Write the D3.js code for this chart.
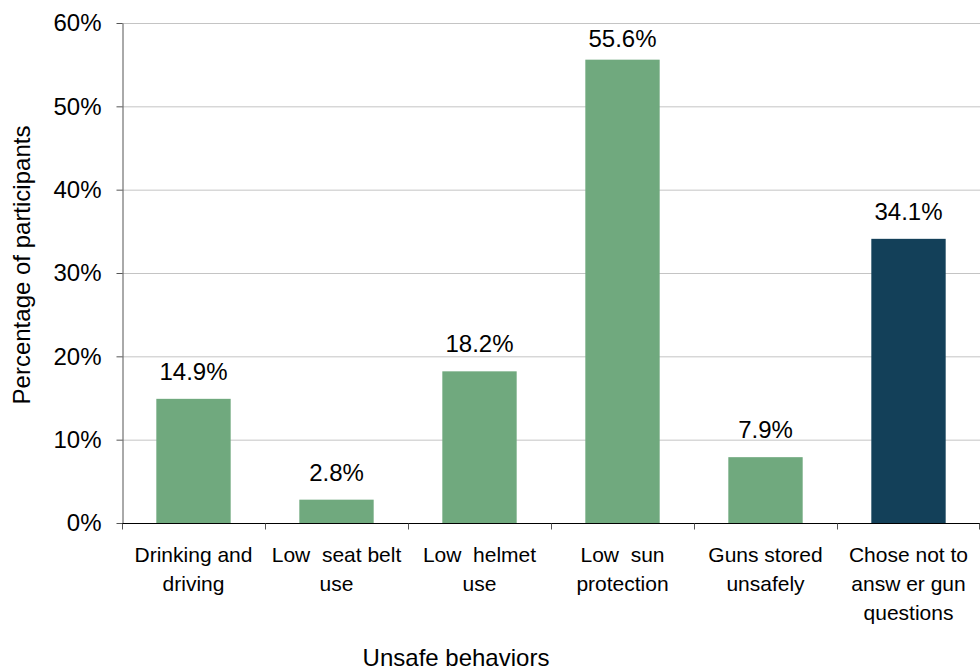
<!DOCTYPE html>
<html>
<head>
<meta charset="utf-8">
<script src="https://cdn.jsdelivr.net/npm/d3@7"></script>
<style>
html,body{margin:0;padding:0;background:#fff;}
svg{display:block;font-family:"Liberation Sans",Arial,sans-serif;}
</style>
</head>
<body>
<svg id="chart" width="980" height="671"></svg>
<script>
const categories = [
  ["Drinking and", "driving"],
  ["Low  seat belt", "use"],
  ["Low  helmet", "use"],
  ["Low  sun", "protection"],
  ["Guns stored", "unsafely"],
  ["Chose not to", "answ er gun", "questions"]
];
const values = [14.9, 2.8, 18.2, 55.6, 7.9, 34.1];
const barColors = ["#70a97e", "#70a97e", "#70a97e", "#70a97e", "#70a97e", "#134059"];
const yTicks = [0, 10, 20, 30, 40, 50, 60];

(function() {
const svg = d3.select("#chart");
const mLeft = 122, mRight = 980, mTop = 23, mBottom = 523;

const x = d3.scaleBand().domain(d3.range(categories.length)).range([mLeft, mRight]).paddingInner(0.48).paddingOuter(0.24);
const y = d3.scaleLinear().domain([0, 60]).range([mBottom, mTop]);

// gridlines
svg.append("g").selectAll("line").data(yTicks.filter(d => d > 0)).join("line")
  .attr("x1", mLeft).attr("x2", mRight)
  .attr("y1", d => y(d) + 0.5).attr("y2", d => y(d) + 0.5)
  .attr("stroke", "#c4c4c4").attr("stroke-width", 1);

// bars
svg.append("g").selectAll("rect").data(values).join("rect")
  .attr("x", (d, i) => x(i))
  .attr("width", x.bandwidth())
  .attr("y", d => y(d))
  .attr("height", d => mBottom - y(d))
  .attr("fill", (d, i) => barColors[i]);

// value labels
svg.append("g").selectAll("text").data(values).join("text")
  .attr("x", (d, i) => x(i) + x.bandwidth() / 2)
  .attr("y", d => Math.max(y(d) - 19, 47))
  .attr("text-anchor", "middle")
  .attr("font-size", 24)
  .attr("fill", "#000")
  .text(d => d.toFixed(1) + "%");

// y axis
const yAxis = d3.axisLeft(y).tickValues(yTicks).tickFormat(d => d + "%").tickSize(6).tickSizeOuter(0);
const gy = svg.append("g").attr("transform", `translate(${mLeft + 0.5},0)`).call(yAxis);
gy.select(".domain").attr("stroke", "#555");
gy.selectAll(".tick line").attr("stroke", "#555");
gy.selectAll(".tick text").attr("font-size", 24).attr("font-family", "Liberation Sans, Arial, sans-serif").attr("fill", "#000").attr("x", -21);

// x axis
const xEdge = d3.scaleLinear().domain([0, categories.length]).range([mLeft, mRight]);
const gx = svg.append("g").attr("transform", `translate(0,${mBottom + 0.5})`);
gx.append("line").attr("x1", mLeft).attr("x2", mRight).attr("stroke", "#000").attr("stroke-width", 1.2);
gx.selectAll("line.tk").data(d3.range(categories.length + 1)).join("line").attr("class", "tk")
  .attr("x1", d => Math.min(xEdge(d) + 0.5, mRight - 0.5)).attr("x2", d => Math.min(xEdge(d) + 0.5, mRight - 0.5))
  .attr("y1", 0).attr("y2", 6).attr("stroke", "#555");

// category labels
const cl = svg.append("g").selectAll("text").data(categories).join("text")
  .attr("text-anchor", "middle")
  .attr("font-size", 21)
  .attr("fill", "#000");
cl.each(function(lines, i) {
  d3.select(this).selectAll("tspan").data(lines).join("tspan")
    .attr("x", x(i) + x.bandwidth() / 2)
    .attr("y", (d, j) => 562 + j * 29)
    .style("white-space", "pre")
    .text(d => d);
});

// axis titles
svg.append("text").attr("x", 456).attr("y", 666).attr("text-anchor", "middle")
  .attr("font-size", 24).attr("fill", "#000").text("Unsafe behaviors");
svg.append("text").attr("transform", "translate(30,265) rotate(-90)").attr("text-anchor", "middle")
  .attr("font-size", 24).attr("fill", "#000").text("Percentage of participants");
})();
</script>
</body>
</html>
